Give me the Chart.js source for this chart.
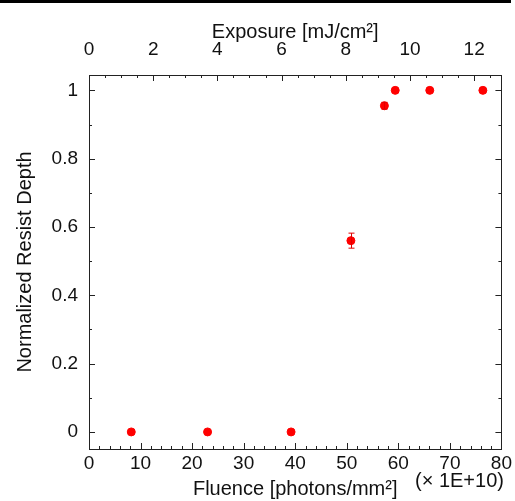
<!DOCTYPE html>
<html>
<head>
<meta charset="utf-8">
<script src="https://cdn.jsdelivr.net/npm/chart.js@4/dist/chart.umd.min.js"></script>
<style>
  html, body { margin: 0; padding: 0; background: #fff; }
  #wrap { width: 515px; height: 501px; position: relative; }
</style>
</head>
<body>
<div id="wrap"><canvas id="myChart" width="515" height="501"></canvas></div>
<script>
// data
var fluence = [8.2, 23, 39.2, 50.8, 57.3, 59.4, 66.1, 76.4];   // x 1E+10 photons/mm2
var depth   = [0, 0, 0, 0.56, 0.955, 1, 1, 1];
var depthErr = [0, 0, 0, 0.022, 0.01, 0, 0, 0];
var fluenceTicks = [0, 10, 20, 30, 40, 50, 60, 70, 80];
var exposureTicks = [0, 2, 4, 6, 8, 10, 12];
var depthTicks = [0, 0.2, 0.4, 0.6, 0.8, 1];
var exposureMax = 12.85;   // exposure at fluence 80

var points = fluence.map(function (x, i) { return { x: x, y: depth[i] }; });

var FONT = 'Liberation Sans, Arial, sans-serif';

// ticks menghadap ke dalam, bingkai, error bar
var framePlugin = {
  id: 'frame',
  afterDatasetsDraw: function (chart) {
    var ctx = chart.ctx;
    var sx = chart.scales.x, sy = chart.scales.y;
    ctx.save();
    // error bar
    ctx.strokeStyle = '#e00000';
    ctx.lineWidth = 1;
    for (var i = 0; i < fluence.length; i++) {
      if (!depthErr[i]) continue;
      var px = Math.round(sx.getPixelForValue(fluence[i])) + 0.5;
      var y1 = sy.getPixelForValue(depth[i] + depthErr[i]);
      var y2 = sy.getPixelForValue(depth[i] - depthErr[i]);
      ctx.beginPath();
      ctx.moveTo(px, y1); ctx.lineTo(px, y2);
      ctx.moveTo(px - 3, y1); ctx.lineTo(px + 3, y1);
      ctx.moveTo(px - 3, y2); ctx.lineTo(px + 3, y2);
      ctx.stroke();
    }
    ctx.restore();
  },
  afterDraw: function (chart) {
    var ctx = chart.ctx;
    var a = chart.chartArea;
    var sx = chart.scales.x, sy = chart.scales.y, st = chart.scales.x2;
    ctx.save();
    ctx.strokeStyle = '#222';
    ctx.lineWidth = 1;
    ctx.strokeRect(Math.round(a.left) + 0.5, Math.round(a.top) + 0.5,
      Math.round(a.right - a.left), Math.round(a.bottom - a.top));
    ctx.beginPath();
    var v, p, len;
    // bawah: minor 2, mayor 10
    for (v = 0; v <= 80; v += 2) {
      p = Math.round(sx.getPixelForValue(v)) + 0.5;
      len = (v % 10 === 0) ? 6 : 3;
      ctx.moveTo(p, a.bottom); ctx.lineTo(p, a.bottom - len);
    }
    // atas: minor 0.5, mayor 2
    for (v = 0; v <= exposureMax; v += 0.5) {
      p = Math.round(st.getPixelForValue(v)) + 0.5;
      len = (v % 2 === 0) ? 6 : 3;
      ctx.moveTo(p, a.top); ctx.lineTo(p, a.top + len);
    }
    // kiri & kanan: minor 0.1, mayor 0.2
    for (var k = 0; k <= 10; k++) {
      v = k / 10;
      p = Math.round(sy.getPixelForValue(v)) + 0.5;
      len = (k % 2 === 0) ? 6 : 3;
      ctx.moveTo(a.left, p); ctx.lineTo(a.left + len, p);
      ctx.moveTo(a.right, p); ctx.lineTo(a.right - len, p);
    }
    ctx.stroke();
    // garis hitam di atas
    ctx.fillStyle = '#000';
    ctx.fillRect(0, 0, 511, 3);
    // faktor skala
    ctx.fillStyle = '#111';
    ctx.font = '20px ' + FONT;
    ctx.textAlign = 'left';
    ctx.textBaseline = 'middle';
    ctx.fillText('(\u00d7 1E+10)', 415, 481);
    ctx.restore();
  }
};

var ctx = document.getElementById('myChart').getContext('2d');
var myChart = new Chart(ctx, {
  type: 'scatter',
  data: {
    datasets: [{
      data: points,
      xAxisID: 'x',
      yAxisID: 'y',
      backgroundColor: '#ff0000',
      borderColor: '#ff0000',
      pointRadius: 4,
      pointHoverRadius: 4
    }]
  },
  options: {
    responsive: false,
    animation: false,
    events: [],
    plugins: { legend: { display: false }, tooltip: { enabled: false } },
    layout: { padding: { right: 13 } },
    scales: {
      x: {
        type: 'linear', position: 'bottom', min: 0, max: 80,
        afterBuildTicks: function (s) { s.ticks = fluenceTicks.map(function (v) { return { value: v }; }); },
        afterFit: function (s) { s.height = 52; },
        grid: { display: false, drawTicks: false },
        border: { display: false },
        ticks: { color: '#111', font: { size: 19, family: FONT }, padding: 3, maxRotation: 0 },
        title: { display: true, text: 'Fluence [photons/mm\u00b2]', color: '#111',
          font: { size: 20, family: FONT }, padding: { top: 0, bottom: 0 } }
      },
      x2: {
        type: 'linear', position: 'top', min: 0, max: exposureMax,
        afterBuildTicks: function (s) { s.ticks = exposureTicks.map(function (v) { return { value: v }; }); },
        afterFit: function (s) { s.height = 75; },
        grid: { display: false, drawTicks: false },
        border: { display: false },
        ticks: { color: '#111', font: { size: 19, family: FONT }, padding: 14, maxRotation: 0 },
        title: { display: true, text: 'Exposure [mJ/cm\u00b2]', color: '#111',
          font: { size: 20, family: FONT }, padding: { top: 20, bottom: 0 } }
      },
      y: {
        type: 'linear', position: 'left', min: -0.05, max: 1.045,
        afterBuildTicks: function (s) { s.ticks = depthTicks.map(function (v) { return { value: v }; }); },
        afterFit: function (s) { s.width = 89; },
        grid: { display: false, drawTicks: false },
        border: { display: false },
        ticks: { color: '#111', font: { size: 19, family: FONT }, padding: 11,
          callback: function (v) { return String(Math.round(v * 10) / 10); } },
        title: { display: true, text: 'Normalized Resist Depth', color: '#111',
          font: { size: 20, family: FONT }, padding: { top: 13, bottom: 0 } }
      }
    }
  },
  plugins: [framePlugin]
});
</script>
</body>
</html>
